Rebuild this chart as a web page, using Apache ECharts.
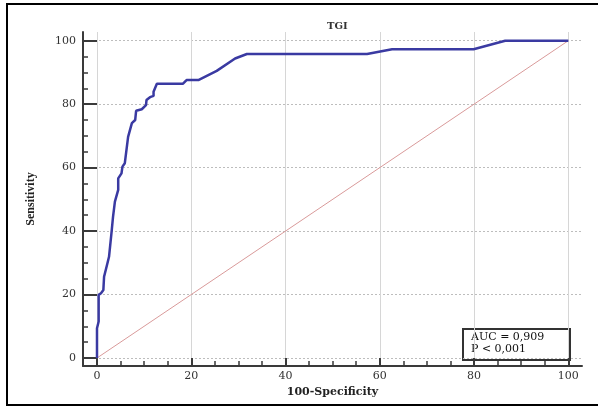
<!DOCTYPE html>
<html>
<head>
<meta charset="utf-8">
<script src="https://cdn.jsdelivr.net/npm/echarts@6/dist/echarts.min.js"></script>
<style>
  html, body { margin: 0; padding: 0; background: #fff; }
  #chart { width: 598px; height: 407px; }
</style>
</head>
<body>
<div id="chart"></div>
<script>
// ROC curve points (100-Specificity, Sensitivity)
const rocX = [0, 0, 0.35, 0.35, 0.85, 1.35, 1.5, 1.9, 2.2, 2.55, 2.9, 3.1, 3.4, 3.8, 4.5, 4.5, 5.2, 5.4, 5.9, 6.6, 7.4, 8.1, 8.3, 9.5, 10.4, 10.5, 11.25, 12.0, 12.0, 12.7, 18.2, 19.0, 21.5, 25.4, 29.3, 31.8, 57.3, 62.6, 79.9, 86.6, 100]
const rocY = [0, 9.4, 11.5, 19.9, 20.4, 21.4, 25.6, 26.2, 29.8, 31.9, 32.5, 39.8, 44.5, 49.3, 53, 56.6, 58.2, 60.3, 61.4, 69.7, 74, 75, 77.9, 78.4, 79.7, 81.3, 82.2, 82.6, 83.9, 86.4, 86.4, 87.6, 87.6, 90.5, 94.4, 95.8, 95.8, 97.3, 97.3, 100, 100]
const diagX = [0, 100]
const diagY = [0, 100]
const majorTicks = [0, 20, 40, 60, 80, 100]
const minorTicks = [5, 10, 15, 25, 30, 35, 45, 50, 55, 65, 70, 75, 85, 90, 95]
const aucLines = ['AUC = 0,909', 'P < 0,001']

const serif = 'DejaVu Serif'
const axisColor = '#3a3a3a'

const chart = echarts.init(document.getElementById('chart'))

function zip(xs, ys) {
  return xs.map((x, i) => [x, ys[i]])
}

const xRange = { min: -2.97, max: 102.9 }
const yRange = { min: -2.52, max: 102.74 }

chart.setOption({
  animation: false,
  title: {
    text: 'TGI',
    left: 322,
    top: 16,
    textStyle: { fontFamily: serif, fontSize: 10, fontWeight: 'bold', color: '#333' },
  },
  grid: { left: 83, top: 32, width: 499, height: 334 },
  xAxis: [
    {
      type: 'value',
      ...xRange,
      name: '100-Specificity',
      nameLocation: 'middle',
      nameGap: 20,
      nameTextStyle: { fontFamily: serif, fontSize: 11, fontWeight: 'bold', color: '#222', verticalAlign: 'top' },
      axisLine: { onZero: false, lineStyle: { color: axisColor, width: 2 } },
      axisTick: { inside: true, length: 8, customValues: majorTicks, lineStyle: { color: axisColor, width: 2 } },
      axisLabel: { customValues: majorTicks, margin: 5, fontFamily: serif, fontSize: 11, color: '#333' },
      splitLine: { show: true, lineStyle: { color: '#d6d6d6', width: 1 } },
    },
    {
      type: 'value',
      ...xRange,
      position: 'bottom',
      axisLine: { show: false, onZero: false },
      axisTick: { inside: true, length: 5, customValues: minorTicks, lineStyle: { color: axisColor, width: 1.5 } },
      axisLabel: { show: false },
      splitLine: { show: false },
    },
  ],
  yAxis: [
    {
      type: 'value',
      ...yRange,
      name: 'Sensitivity',
      nameLocation: 'middle',
      nameRotate: 90,
      nameGap: 46,
      nameTextStyle: { fontFamily: 'Liberation Serif', fontSize: 12, fontWeight: 'bold', color: '#222' },
      axisLine: { onZero: false, lineStyle: { color: axisColor, width: 2 } },
      axisTick: { inside: true, length: 14, customValues: majorTicks, lineStyle: { color: axisColor, width: 2 } },
      axisLabel: { customValues: majorTicks, margin: 7, fontFamily: serif, fontSize: 11, color: '#333' },
      splitLine: { show: true, lineStyle: { color: '#bdbdbd', width: 1, type: [2, 2] } },
    },
    {
      type: 'value',
      ...yRange,
      position: 'left',
      axisLine: { show: false, onZero: false },
      axisTick: { inside: true, length: 5, customValues: minorTicks, lineStyle: { color: axisColor, width: 1.5 } },
      axisLabel: { show: false },
      splitLine: { show: false },
    },
  ],
  series: [
    {
      type: 'line',
      data: zip(diagX, diagY),
      symbol: 'none',
      lineStyle: { color: '#d99a9a', width: 1 },
      z: 2,
    },
    {
      type: 'line',
      data: zip(rocX, rocY),
      symbol: 'none',
      lineStyle: { color: '#3a3aa2', width: 2.5 },
      z: 3,
    },
  ],
  graphic: [
    {
      type: 'rect',
      shape: { x: 7, y: 4, width: 600, height: 401 },
      style: { fill: 'none', stroke: '#000', lineWidth: 2 },
      silent: true,
    },
    {
      type: 'group',
      left: 462,
      top: 328,
      z: 100,
      children: [
        {
          type: 'rect',
          shape: { x: 0, y: 0, width: 107, height: 31 },
          style: { fill: '#fff', stroke: '#333', lineWidth: 2 },
        },
        {
          type: 'text',
          x: 8,
          y: 2,
          style: { text: aucLines.join('\n'), font: '11px "DejaVu Serif"', fill: '#111', lineHeight: 12 },
        },
      ],
    },
  ],
})
</script>
</body>
</html>
